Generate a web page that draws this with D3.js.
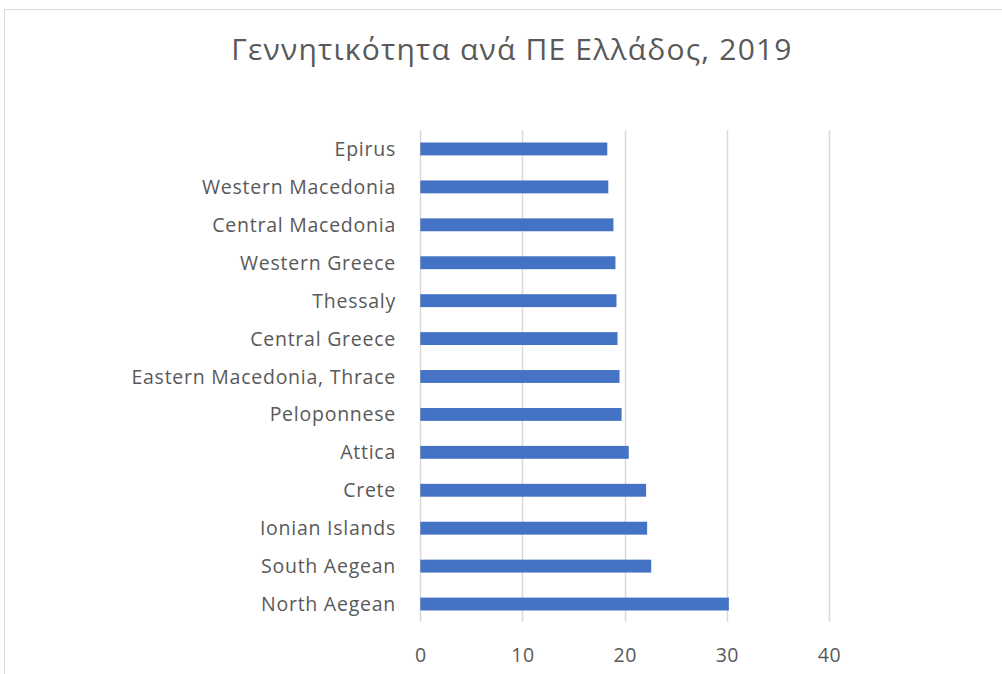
<!DOCTYPE html>
<html><head><meta charset="utf-8">
<script src="https://cdn.jsdelivr.net/npm/d3@7"></script>
<style>body{margin:0;background:#fff;}svg{display:block;}</style>
</head><body>
<script>
const categories = ["Epirus","Western Macedonia","Central Macedonia","Western Greece","Thessaly","Central Greece","Eastern Macedonia, Thrace","Peloponnese","Attica","Crete","Ionian Islands","South Aegean","North Aegean"];
const values = [18.3,18.4,18.9,19.1,19.2,19.3,19.5,19.7,20.4,22.1,22.2,22.6,30.2];
const xTicks = [0,10,20,30,40];
const title = "Γεννητικότητα ανά ΠΕ Ελλάδος, 2019";

const W = 1002, H = 674;
const svg = d3.select("body").append("svg").attr("width", W).attr("height", H);
svg.append("rect").attr("x", 4.5).attr("y", 9.5).attr("width", 1100).attr("height", 800)
  .attr("fill", "#fff").attr("stroke", "#d9d9d9").attr("stroke-width", 1);

const font = "'Open Sans', 'Noto Sans', sans-serif";
const x = d3.scaleLinear().domain([0, 40]).range([420.3, 829]);
const y = d3.scaleBand().domain(categories).range([130, 623]).paddingInner(0.66).paddingOuter(0.33);

// gridlines
svg.append("g").selectAll("line").data(xTicks).join("line")
  .attr("x1", d => Math.round(x(d)) + 0.5).attr("x2", d => Math.round(x(d)) + 0.5)
  .attr("y1", 130).attr("y2", 622)
  .attr("stroke", "#d9d9d9").attr("stroke-width", 1.5);

// bars
svg.append("g").selectAll("rect").data(values).join("rect")
  .attr("x", x(0)).attr("y", (d, i) => y(categories[i]))
  .attr("width", d => x(d) - x(0)).attr("height", y.bandwidth())
  .attr("fill", "#4472c4");

// x axis
const xAxis = d3.axisBottom(x).tickValues(xTicks).tickSize(0).tickPadding(0);
const gx = svg.append("g").attr("transform", "translate(0,662)").call(xAxis);
gx.select(".domain").remove();
gx.selectAll("text").attr("font-family", font).attr("font-size", 19.5).attr("fill", "#595959")
  .attr("dy", "0").attr("letter-spacing", 0.5);

// y axis
const yAxis = d3.axisLeft(y).tickSize(0).tickPadding(0);
const gy = svg.append("g").attr("transform", "translate(396,0)").call(yAxis);
gy.select(".domain").remove();
gy.selectAll("text").attr("font-family", font).attr("font-size", 19.5).attr("fill", "#595959")
  .attr("letter-spacing", 0.75).attr("dy", "0.36em");

svg.append("text").attr("x", 512).attr("y", 60).attr("text-anchor", "middle")
  .attr("font-family", font).attr("font-size", 30).attr("letter-spacing", 1.2)
  .attr("fill", "#595959").text(title);
</script>
</body></html>
